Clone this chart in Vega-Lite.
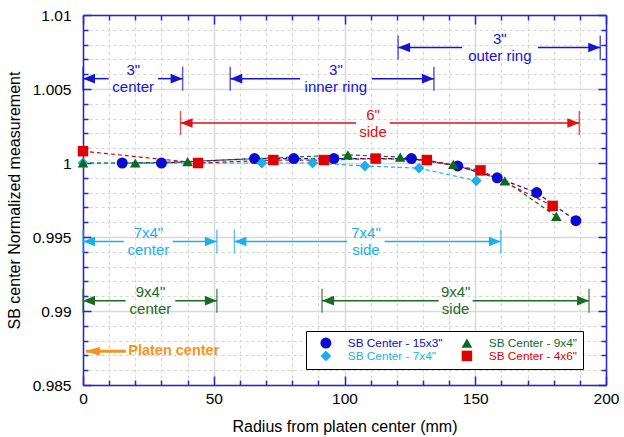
{
  "$schema": "https://vega.github.io/schema/vega-lite/v6.json",
  "width": 523,
  "height": 370,
  "autosize": "none",
  "padding": {"left": 83, "top": 15, "right": 18, "bottom": 52},
  "background": "white",
  "config": {
    "font": "Liberation Sans",
    "view": {"stroke": null},
    "axis": {
      "domainColor": "#2424d8", "domainWidth": 1.5,
      "tickColor": "#2424d8", "tickWidth": 1.5,
      "labelFont": "Liberation Sans", "labelFontSize": 15.5, "labelColor": "#000000",
      "titleFont": "Liberation Sans", "titleFontSize": 16, "titleFontWeight": "normal", "titleColor": "#000000",
      "labelFlush": false, "labelOverlap": false
    },
    "legend": {
      "labelFont": "Liberation Sans", "labelFontSize": 11.8,
      "title": null, "orient": "none", "legendX": 223, "legendY": 316, "columns": 2, "columnPadding": 10, "rowPadding": 0,
      "padding": 6, "symbolOffset": 8, "labelOffset": 16, "symbolStrokeWidth": 0, "fillColor": "white", "strokeColor": "black"
    }
  },
  "datasets": {
    "series": [
      {"s": "SB Center - 15x3\"", "r": 15, "v": 1.0},
      {"s": "SB Center - 15x3\"", "r": 30, "v": 1.0},
      {"s": "SB Center - 15x3\"", "r": 65.6, "v": 1.0003},
      {"s": "SB Center - 15x3\"", "r": 80.6, "v": 1.0003},
      {"s": "SB Center - 15x3\"", "r": 95.9, "v": 1.0003},
      {"s": "SB Center - 15x3\"", "r": 125.6, "v": 1.0003},
      {"s": "SB Center - 15x3\"", "r": 143.3, "v": 0.9998},
      {"s": "SB Center - 15x3\"", "r": 158.4, "v": 0.999},
      {"s": "SB Center - 15x3\"", "r": 173.5, "v": 0.998},
      {"s": "SB Center - 15x3\"", "r": 188.5, "v": 0.9961},
      {"s": "SB Center - 7x4\"", "r": 0, "v": 1.0},
      {"s": "SB Center - 7x4\"", "r": 68.4, "v": 1.0},
      {"s": "SB Center - 7x4\"", "r": 87.8, "v": 1.0},
      {"s": "SB Center - 7x4\"", "r": 107.8, "v": 0.9998},
      {"s": "SB Center - 7x4\"", "r": 128.5, "v": 0.99965},
      {"s": "SB Center - 7x4\"", "r": 150.4, "v": 0.9988},
      {"s": "SB Center - 9x4\"", "r": 0, "v": 1.0},
      {"s": "SB Center - 9x4\"", "r": 20, "v": 1.0},
      {"s": "SB Center - 9x4\"", "r": 40, "v": 1.0001},
      {"s": "SB Center - 9x4\"", "r": 101.3, "v": 1.00055},
      {"s": "SB Center - 9x4\"", "r": 121.3, "v": 1.0004},
      {"s": "SB Center - 9x4\"", "r": 141.6, "v": 0.9999},
      {"s": "SB Center - 9x4\"", "r": 161.3, "v": 0.9988},
      {"s": "SB Center - 9x4\"", "r": 181, "v": 0.9964},
      {"s": "SB Center - 4x6\"", "r": 0, "v": 1.0008},
      {"s": "SB Center - 4x6\"", "r": 44, "v": 1.0},
      {"s": "SB Center - 4x6\"", "r": 72.8, "v": 1.0002},
      {"s": "SB Center - 4x6\"", "r": 92.1, "v": 1.0002},
      {"s": "SB Center - 4x6\"", "r": 111.9, "v": 1.0003},
      {"s": "SB Center - 4x6\"", "r": 131.5, "v": 1.0002},
      {"s": "SB Center - 4x6\"", "r": 152, "v": 0.9995},
      {"s": "SB Center - 4x6\"", "r": 179.6, "v": 0.9971}
    ],
    "ann": [
      {"grp": "3\"", "label": "3\"\ncenter", "y": 1.0057, "x1": 0, "x2": 38.1, "gl": 9.8, "gr": 28.7, "tx": 19.2},
      {"grp": "3\"", "label": "3\"\ninner ring", "y": 1.0057, "x1": 56.3, "x2": 134.2, "gl": 83, "gr": 110.5, "tx": 96.7},
      {"grp": "3\"", "label": "3\"\nouter ring", "y": 1.0078, "x1": 120.5, "x2": 197.8, "gl": 145, "gr": 174, "tx": 159.4},
      {"grp": "6\"", "label": "6\"\nside", "y": 1.0027, "x1": 37.3, "x2": 189.8, "gl": 104.4, "gr": 117.3, "tx": 110.9},
      {"grp": "7x4\"", "label": "7x4\"\ncenter", "y": 0.9947, "x1": 0, "x2": 51.2, "gl": 15.6, "gr": 34.3, "tx": 25},
      {"grp": "7x4\"", "label": "7x4\"\nside", "y": 0.9947, "x1": 57.9, "x2": 159.8, "gl": 101, "gr": 115.3, "tx": 108.2},
      {"grp": "9x4\"", "label": "9x4\"\ncenter", "y": 0.9907, "x1": 0, "x2": 51.2, "gl": 16.3, "gr": 35.3, "tx": 25.8},
      {"grp": "9x4\"", "label": "9x4\"\nside", "y": 0.9907, "x1": 91.4, "x2": 193.5, "gl": 136, "gr": 149, "tx": 142.5}
    ],
    "platen": [
      {"r0": 1.1, "r1": 16.4, "y": 0.98728, "tx": 17.3, "label": "Platen center"}
    ]
  },
  "layer": [
    {
      "data": {"name": "series"},
      "mark": {"type": "line", "strokeDash": [4, 3], "strokeWidth": 1.2},
      "encoding": {
        "x": {"field": "r", "type": "quantitative", "scale": {"domain": [0, 200], "nice": false, "zero": false},
          "axis": {"orient": "bottom", "values": [0, 50, 100, 150, 200], "format": "d", "tickSize": -9, "labelPadding": 15,
            "grid": true, "gridColor": "#d9d9d9", "gridWidth": 1.5, "title": "Radius from platen center (mm)", "titlePadding": 12}},
        "y": {"field": "v", "type": "quantitative", "scale": {"domain": [0.985, 1.01], "nice": false, "zero": false},
          "axis": {"orient": "left", "values": [0.985, 0.99, 0.995, 1, 1.005, 1.01], "format": "~g", "tickSize": -8, "labelPadding": 20,
            "grid": true, "gridColor": "#d9d9d9", "gridWidth": 1.5, "title": "SB center Normalized measurement", "titlePadding": 10}},
        "color": {"field": "s", "type": "nominal",
          "scale": {"domain": ["SB Center - 15x3\"", "SB Center - 7x4\"", "SB Center - 9x4\"", "SB Center - 4x6\""],
            "range": ["#0a0ad0", "#1bb0ea", "#0b6a1f", "#e00000"]},
          "legend": {"encode": {"labels": {"update": {"fill": {"scale": "color", "field": "value"}}}}}}
      }
    },
    {
      "data": {"name": "series"},
      "mark": {"type": "point", "filled": true, "opacity": 1, "strokeWidth": 0},
      "encoding": {
        "x": {"field": "r", "type": "quantitative", "scale": {"domain": [0, 200], "nice": false, "zero": false},
          "axis": {"orient": "bottom", "values": [10, 20, 30, 40, 60, 70, 80, 90, 110, 120, 130, 140, 160, 170, 180, 190], "labels": false, "tickSize": -5,
            "grid": true, "gridColor": "#d4d4d4", "gridDash": [3, 3], "gridWidth": 1, "title": null, "domain": false}},
        "y": {"field": "v", "type": "quantitative", "scale": {"domain": [0.985, 1.01], "nice": false, "zero": false},
          "axis": {"orient": "left", "values": [0.986, 0.987, 0.988, 0.989, 0.991, 0.992, 0.993, 0.994, 0.996, 0.997, 0.998, 0.999, 1.001, 1.002, 1.003, 1.004, 1.006, 1.007, 1.008, 1.009],
            "labels": false, "tickSize": -5, "grid": true, "gridColor": "#d4d4d4", "gridDash": [3, 3], "gridWidth": 1, "title": null, "domain": false}},
        "color": {"field": "s", "type": "nominal",
          "scale": {"domain": ["SB Center - 15x3\"", "SB Center - 7x4\"", "SB Center - 9x4\"", "SB Center - 4x6\""],
            "range": ["#0a0ad0", "#1bb0ea", "#0b6a1f", "#e00000"]},
          "legend": {"encode": {"labels": {"update": {"fill": {"scale": "color", "field": "value"}}}}}},
        "shape": {"field": "s", "type": "nominal",
          "scale": {"domain": ["SB Center - 15x3\"", "SB Center - 7x4\"", "SB Center - 9x4\"", "SB Center - 4x6\""],
            "range": ["circle", "diamond", "triangle-up", "square"]}},
        "size": {"field": "s", "type": "nominal",
          "scale": {"domain": ["SB Center - 15x3\"", "SB Center - 7x4\"", "SB Center - 9x4\"", "SB Center - 4x6\""],
            "range": [121, 110, 170, 177]}, "legend": null}
      }
    },
    {
      "data": {"name": "ann"},
      "mark": {"type": "rule", "strokeWidth": 1.5},
      "encoding": {
        "x": {"field": "x1", "type": "quantitative", "scale": {"domain": [0, 200], "nice": false, "zero": false},
          "axis": {"orient": "top", "values": [0, 50, 100, 150, 200], "labels": false, "tickSize": -9, "grid": false, "title": null}},
        "x2": {"field": "gl"},
        "y": {"field": "y", "type": "quantitative", "scale": {"domain": [0.985, 1.01], "nice": false, "zero": false},
          "axis": {"orient": "right", "values": [0.985, 0.99, 0.995, 1, 1.005, 1.01], "labels": false, "tickSize": -8, "grid": false, "title": null}},
        "stroke": {"field": "grp", "type": "nominal",
          "scale": {"domain": ["3\"", "6\"", "7x4\"", "9x4\""], "range": ["#1414d2", "#e01010", "#1bb0ea", "#1b6b24"]}, "legend": null}
      }
    },
    {
      "data": {"name": "ann"},
      "mark": {"type": "rule", "strokeWidth": 1.5},
      "encoding": {
        "x": {"field": "gr", "type": "quantitative", "scale": {"domain": [0, 200], "nice": false, "zero": false},
          "axis": {"orient": "top", "values": [10, 20, 30, 40, 60, 70, 80, 90, 110, 120, 130, 140, 160, 170, 180, 190], "labels": false, "tickSize": -5, "grid": false, "title": null, "domain": false}},
        "x2": {"field": "x2"},
        "y": {"field": "y", "type": "quantitative", "scale": {"domain": [0.985, 1.01], "nice": false, "zero": false},
          "axis": {"orient": "right", "values": [0.986, 0.987, 0.988, 0.989, 0.991, 0.992, 0.993, 0.994, 0.996, 0.997, 0.998, 0.999, 1.001, 1.002, 1.003, 1.004, 1.006, 1.007, 1.008, 1.009],
            "labels": false, "tickSize": -5, "grid": false, "title": null, "domain": false}},
        "stroke": {"field": "grp", "type": "nominal",
          "scale": {"domain": ["3\"", "6\"", "7x4\"", "9x4\""], "range": ["#1414d2", "#e01010", "#1bb0ea", "#1b6b24"]}, "legend": null}
      }
    },
    {
      "data": {"name": "ann"},
      "mark": {"type": "tick", "orient": "vertical", "size": 24, "thickness": 1.5},
      "encoding": {
        "x": {"field": "x1", "type": "quantitative", "scale": {"domain": [0, 200], "nice": false, "zero": false}, "axis": null},
        "y": {"field": "y", "type": "quantitative", "scale": {"domain": [0.985, 1.01], "nice": false, "zero": false}, "axis": null},
        "fill": {"field": "grp", "type": "nominal",
          "scale": {"domain": ["3\"", "6\"", "7x4\"", "9x4\""], "range": ["#1414d2", "#e01010", "#1bb0ea", "#1b6b24"]}, "legend": null}
      }
    },
    {
      "data": {"name": "ann"},
      "mark": {"type": "tick", "orient": "vertical", "size": 24, "thickness": 1.5},
      "encoding": {
        "x": {"field": "x2", "type": "quantitative", "scale": {"domain": [0, 200], "nice": false, "zero": false}, "axis": null},
        "y": {"field": "y", "type": "quantitative", "scale": {"domain": [0.985, 1.01], "nice": false, "zero": false}, "axis": null},
        "fill": {"field": "grp", "type": "nominal", "legend": null}
      }
    },
    {
      "data": {"name": "ann"},
      "mark": {"type": "point", "shape": "M0,0L2,-0.8L2,0.8Z", "size": 144, "filled": true, "opacity": 1, "strokeWidth": 0},
      "encoding": {
        "x": {"field": "x1", "type": "quantitative", "scale": {"domain": [0, 200], "nice": false, "zero": false}, "axis": null},
        "y": {"field": "y", "type": "quantitative", "scale": {"domain": [0.985, 1.01], "nice": false, "zero": false}, "axis": null},
        "fill": {"field": "grp", "type": "nominal", "legend": null}
      }
    },
    {
      "data": {"name": "ann"},
      "mark": {"type": "point", "shape": "M0,0L-2,-0.8L-2,0.8Z", "size": 144, "filled": true, "opacity": 1, "strokeWidth": 0},
      "encoding": {
        "x": {"field": "x2", "type": "quantitative", "scale": {"domain": [0, 200], "nice": false, "zero": false}, "axis": null},
        "y": {"field": "y", "type": "quantitative", "scale": {"domain": [0.985, 1.01], "nice": false, "zero": false}, "axis": null},
        "fill": {"field": "grp", "type": "nominal", "legend": null}
      }
    },
    {
      "data": {"name": "ann"},
      "mark": {"type": "text", "lineBreak": "\n", "fontSize": 15, "lineHeight": 17, "align": "center", "baseline": "middle", "dy": -8.5, "font": "Liberation Sans"},
      "encoding": {
        "x": {"field": "tx", "type": "quantitative", "scale": {"domain": [0, 200], "nice": false, "zero": false}, "axis": null},
        "y": {"field": "y", "type": "quantitative", "scale": {"domain": [0.985, 1.01], "nice": false, "zero": false}, "axis": null},
        "text": {"field": "label"},
        "fill": {"field": "grp", "type": "nominal", "legend": null}
      }
    },
    {
      "data": {"name": "platen"},
      "mark": {"type": "rule", "strokeWidth": 3, "color": "#f7941d"},
      "encoding": {
        "x": {"field": "r0", "type": "quantitative", "scale": {"domain": [0, 200], "nice": false, "zero": false}, "axis": null},
        "x2": {"field": "r1"},
        "y": {"field": "y", "type": "quantitative", "scale": {"domain": [0.985, 1.01], "nice": false, "zero": false}, "axis": null}
      }
    },
    {
      "data": {"name": "platen"},
      "mark": {"type": "point", "shape": "M0,0L2,-0.65L2,0.65Z", "size": 196, "filled": true, "opacity": 1, "strokeWidth": 0, "color": "#f7941d"},
      "encoding": {
        "x": {"field": "r0", "type": "quantitative", "scale": {"domain": [0, 200], "nice": false, "zero": false}, "axis": null},
        "y": {"field": "y", "type": "quantitative", "scale": {"domain": [0.985, 1.01], "nice": false, "zero": false}, "axis": null}
      }
    },
    {
      "data": {"name": "platen"},
      "mark": {"type": "text", "fontSize": 14.5, "fontWeight": "bold", "align": "left", "baseline": "middle", "color": "#f7941d", "font": "Liberation Sans"},
      "encoding": {
        "x": {"field": "tx", "type": "quantitative", "scale": {"domain": [0, 200], "nice": false, "zero": false}, "axis": null},
        "y": {"field": "y", "type": "quantitative", "scale": {"domain": [0.985, 1.01], "nice": false, "zero": false}, "axis": null},
        "text": {"field": "label"}
      }
    }
  ],
  "resolve": {"axis": {"x": "independent", "y": "independent"}}
}
